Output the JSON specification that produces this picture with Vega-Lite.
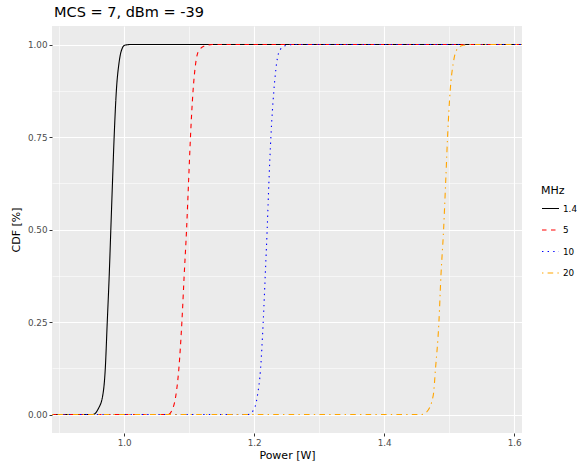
{
  "$schema": "https://vega.github.io/schema/vega-lite/v6.json",
  "autosize": {"type": "none"},
  "width": 470,
  "height": 407,
  "padding": {"left": 52, "top": 26, "right": 55, "bottom": 32},
  "background": "white",
  "title": {"text": "MCS = 7, dBm = -39", "anchor": "start", "frame": "group", "offset": 6, "dx": 2, "fontSize": 14.5, "fontWeight": "normal", "color": "black", "font": "DejaVu Sans"},
  "config": {
    "font": "DejaVu Sans",
    "view": {"fill": "#EBEBEB", "stroke": null},
    "axis": {"domain": false, "gridColor": "white", "tickColor": "#333333", "tickSize": 3, "tickWidth": 1, "labelColor": "#4D4D4D", "labelFontSize": 8.8, "labelPadding": 2, "titleFontSize": 11, "titleFontWeight": "normal", "titleColor": "black"}
  },
  "datasets": {
    "cdf": [
      {"p": 0.889, "cdf": 0, "MHz": "1.4"}, {"p": 0.952, "cdf": 0, "MHz": "1.4"}, {"p": 0.960, "cdf": 0.015, "MHz": "1.4"}, {"p": 0.967, "cdf": 0.051, "MHz": "1.4"}, {"p": 0.971, "cdf": 0.125, "MHz": "1.4"}, {"p": 0.974, "cdf": 0.25, "MHz": "1.4"}, {"p": 0.977, "cdf": 0.375, "MHz": "1.4"}, {"p": 0.9795, "cdf": 0.5, "MHz": "1.4"}, {"p": 0.982, "cdf": 0.625, "MHz": "1.4"}, {"p": 0.9846, "cdf": 0.75, "MHz": "1.4"}, {"p": 0.988, "cdf": 0.875, "MHz": "1.4"}, {"p": 0.992, "cdf": 0.949, "MHz": "1.4"}, {"p": 0.996, "cdf": 0.985, "MHz": "1.4"}, {"p": 1.001, "cdf": 0.998, "MHz": "1.4"}, {"p": 1.011, "cdf": 1, "MHz": "1.4"}, {"p": 1.612, "cdf": 1, "MHz": "1.4"},
      {"p": 0.889, "cdf": 0, "MHz": "5"}, {"p": 1.0677, "cdf": 0, "MHz": "5"}, {"p": 1.0745, "cdf": 0.015, "MHz": "5"}, {"p": 1.0795, "cdf": 0.051, "MHz": "5"}, {"p": 1.0842, "cdf": 0.125, "MHz": "5"}, {"p": 1.0888, "cdf": 0.25, "MHz": "5"}, {"p": 1.0923, "cdf": 0.375, "MHz": "5"}, {"p": 1.096, "cdf": 0.5, "MHz": "5"}, {"p": 1.099, "cdf": 0.625, "MHz": "5"}, {"p": 1.102, "cdf": 0.75, "MHz": "5"}, {"p": 1.106, "cdf": 0.875, "MHz": "5"}, {"p": 1.110, "cdf": 0.949, "MHz": "5"}, {"p": 1.1154, "cdf": 0.985, "MHz": "5"}, {"p": 1.127, "cdf": 0.998, "MHz": "5"}, {"p": 1.136, "cdf": 1, "MHz": "5"}, {"p": 1.612, "cdf": 1, "MHz": "5"},
      {"p": 0.889, "cdf": 0, "MHz": "10"}, {"p": 1.1908, "cdf": 0, "MHz": "10"}, {"p": 1.2, "cdf": 0.015, "MHz": "10"}, {"p": 1.205, "cdf": 0.051, "MHz": "10"}, {"p": 1.2099, "cdf": 0.125, "MHz": "10"}, {"p": 1.2139, "cdf": 0.25, "MHz": "10"}, {"p": 1.217, "cdf": 0.375, "MHz": "10"}, {"p": 1.22, "cdf": 0.5, "MHz": "10"}, {"p": 1.2226, "cdf": 0.625, "MHz": "10"}, {"p": 1.2257, "cdf": 0.75, "MHz": "10"}, {"p": 1.2303, "cdf": 0.875, "MHz": "10"}, {"p": 1.2345, "cdf": 0.949, "MHz": "10"}, {"p": 1.2395, "cdf": 0.985, "MHz": "10"}, {"p": 1.25, "cdf": 0.998, "MHz": "10"}, {"p": 1.263, "cdf": 1, "MHz": "10"}, {"p": 1.612, "cdf": 1, "MHz": "10"},
      {"p": 0.889, "cdf": 0, "MHz": "20"}, {"p": 1.4575, "cdf": 0, "MHz": "20"}, {"p": 1.4652, "cdf": 0.0065, "MHz": "20"}, {"p": 1.4754, "cdf": 0.051, "MHz": "20"}, {"p": 1.479, "cdf": 0.125, "MHz": "20"}, {"p": 1.4842, "cdf": 0.25, "MHz": "20"}, {"p": 1.4873, "cdf": 0.375, "MHz": "20"}, {"p": 1.4914, "cdf": 0.5, "MHz": "20"}, {"p": 1.4945, "cdf": 0.625, "MHz": "20"}, {"p": 1.4975, "cdf": 0.75, "MHz": "20"}, {"p": 1.5015, "cdf": 0.875, "MHz": "20"}, {"p": 1.5062, "cdf": 0.949, "MHz": "20"}, {"p": 1.5114, "cdf": 0.985, "MHz": "20"}, {"p": 1.5215, "cdf": 0.998, "MHz": "20"}, {"p": 1.534, "cdf": 1, "MHz": "20"}, {"p": 1.612, "cdf": 1, "MHz": "20"}
    ]
  },
  "data": {"name": "cdf"},
  "mark": {"type": "line", "strokeWidth": 1.1, "interpolate": "monotone", "clip": true},
  "encoding": {
    "x": {
      "field": "p", "type": "quantitative",
      "scale": {"domain": [0.889, 1.612], "nice": false, "zero": false},
      "axis": {
        "title": "Power [W]", "titlePadding": 3,
        "values": [0.9, 1.0, 1.1, 1.2, 1.3, 1.4, 1.5, 1.6],
        "format": ".1f",
        "labelExpr": "indexof([0.9, 1.1, 1.3, 1.5], datum.value) >= 0 ? '' : datum.label",
        "gridWidth": {"condition": {"test": "indexof([0.9, 1.1, 1.3, 1.5], datum.value) >= 0", "value": 0.55}, "value": 1.1},
        "tickOpacity": {"condition": {"test": "indexof([0.9, 1.1, 1.3, 1.5], datum.value) >= 0", "value": 0}, "value": 1}
      }
    },
    "y": {
      "field": "cdf", "type": "quantitative",
      "scale": {"domain": [-0.05, 1.05], "nice": false, "zero": false},
      "axis": {
        "title": "CDF [%]", "titlePadding": 6,
        "values": [0, 0.125, 0.25, 0.375, 0.5, 0.625, 0.75, 0.875, 1],
        "format": ".2f",
        "labelExpr": "indexof([0.125, 0.375, 0.625, 0.875], datum.value) >= 0 ? '' : datum.label",
        "gridWidth": {"condition": {"test": "indexof([0.125, 0.375, 0.625, 0.875], datum.value) >= 0", "value": 0.55}, "value": 1.1},
        "tickOpacity": {"condition": {"test": "indexof([0.125, 0.375, 0.625, 0.875], datum.value) >= 0", "value": 0}, "value": 1}
      }
    },
    "color": {
      "field": "MHz", "type": "nominal",
      "scale": {"domain": ["1.4", "5", "10", "20"], "range": ["#000000", "#FF0000", "#0000FF", "#FFA500"]},
      "legend": {
        "title": "MHz", "orient": "none", "legendX": 489, "legendY": 159,
        "titleFontSize": 11, "titleFontWeight": "normal", "titleColor": "black", "titlePadding": 3,
        "labelFontSize": 8.8, "labelColor": "black", "labelOffset": 3,
        "symbolType": "stroke", "symbolSize": 289, "symbolStrokeWidth": 1.1, "rowPadding": 6.5
      }
    },
    "strokeDash": {
      "field": "MHz", "type": "nominal",
      "scale": {"domain": ["1.4", "5", "10", "20"], "range": [[1, 0], [4.5, 4.5], [1.4, 4.2], [1.4, 4.2, 5.6, 4.2]]},
      "legend": {
        "title": "MHz", "orient": "none", "legendX": 489, "legendY": 159,
        "titleFontSize": 11, "titleFontWeight": "normal", "titleColor": "black", "titlePadding": 3,
        "labelFontSize": 8.8, "labelColor": "black", "labelOffset": 3,
        "symbolType": "stroke", "symbolSize": 289, "symbolStrokeWidth": 1.1, "rowPadding": 6.5
      }
    },
    "order": {"field": "p", "type": "quantitative"}
  }
}
